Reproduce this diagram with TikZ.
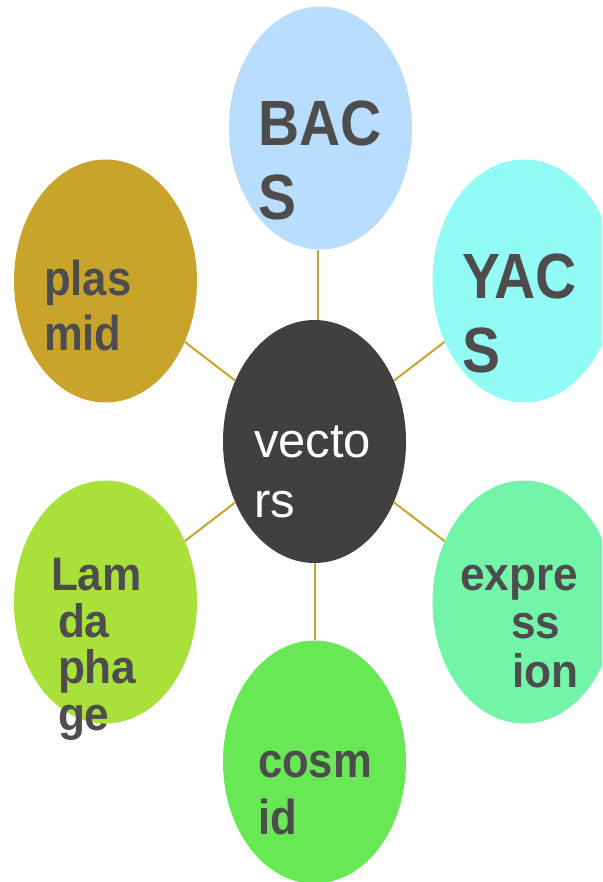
\documentclass[tikz,border=0pt]{standalone}
\usepackage{fontspec}
\setmainfont{Liberation Sans}
\newfontfamily\lblfont{Liberation Sans}[FakeStretch=0.89]
\newfontfamily\lblwide{Liberation Sans}[FakeStretch=0.94]
\usetikzlibrary{shapes.geometric}
\definecolor{cBacs}{HTML}{B8DDFD}
\definecolor{cYacs}{HTML}{92FBF5}
\definecolor{cPlas}{HTML}{C8A52A}
\definecolor{cVec}{HTML}{404040}
\definecolor{cLam}{HTML}{A9E03A}
\definecolor{cExp}{HTML}{72F5A8}
\definecolor{cCos}{HTML}{68E855}
\definecolor{cText}{HTML}{4D4D4D}
\definecolor{cLink}{HTML}{C9A42B}
\begin{document}
\begin{tikzpicture}[x=1pt,y=-1pt,
  blob/.style={ellipse, minimum width=183pt, minimum height=243pt, inner sep=0pt},
  link/.style={draw=cLink, line width=2pt},
  lab/.style={anchor=base west, inner sep=0pt, outer sep=0pt, align=left, text=cText}]
\useasboundingbox (0,0) rectangle (602,882);
\clip (0,0) rectangle (602,882);
% ellipses
\node[blob, fill=cBacs] (bacs) at (320.5,128) {};
\node[blob, fill=cYacs] (yacs) at (524,281) {};
\node[blob, fill=cPlas] (plas) at (105.5,281) {};
\node[blob, fill=cVec]  (vec)  at (314.5,441.5) {};
\node[blob, fill=cLam]  (lam)  at (105.5,602) {};
\node[blob, fill=cExp]  (expr) at (524,602) {};
\node[blob, fill=cCos]  (cos)  at (314.5,762) {};
% connectors
\draw[link] ([xshift=-3pt]bacs.south) -- ([xshift=3pt]vec.north);
\draw[link] (vec) -- (yacs);
\draw[link] (vec) -- (plas);
\draw[link] (vec) -- (lam);
\draw[link] (vec) -- (expr);
\draw[link] (vec) -- (cos);
% labels (anchor = baseline of the last line)
\node[lab, font={\lblfont\bfseries\fontsize{64}{74}\selectfont}] (tbacs) at (258,220) {BAC\\S};
\node[lab, font={\lblfont\bfseries\fontsize{64}{74}\selectfont}] (tyacs) at (462,372) {YAC\\S};
\node[lab, font={\lblfont\bfseries\fontsize{49}{55}\selectfont}] (tplas) at (44,350) {plas\\mid};
\node[lab, text=white, font={\fontsize{49}{60}\selectfont}] (tvec) at (254,517) {vecto\\rs};
\node[lab, font={\lblwide\bfseries\fontsize{47}{46.5}\selectfont}] (tlam) at (51,730) {Lam\\\hspace*{7pt}da\\\hspace*{7pt}pha\\\hspace*{7pt}ge};
\node[lab, font={\lblwide\bfseries\fontsize{47}{48.5}\selectfont}] (texpr) at (460,687) {expre\\\hspace*{51pt}ss\\\hspace*{52pt}ion};
\node[lab, font={\lblfont\bfseries\fontsize{49}{57}\selectfont}] (tcos) at (258,834) {cosm\\id};
\end{tikzpicture}
\end{document}
